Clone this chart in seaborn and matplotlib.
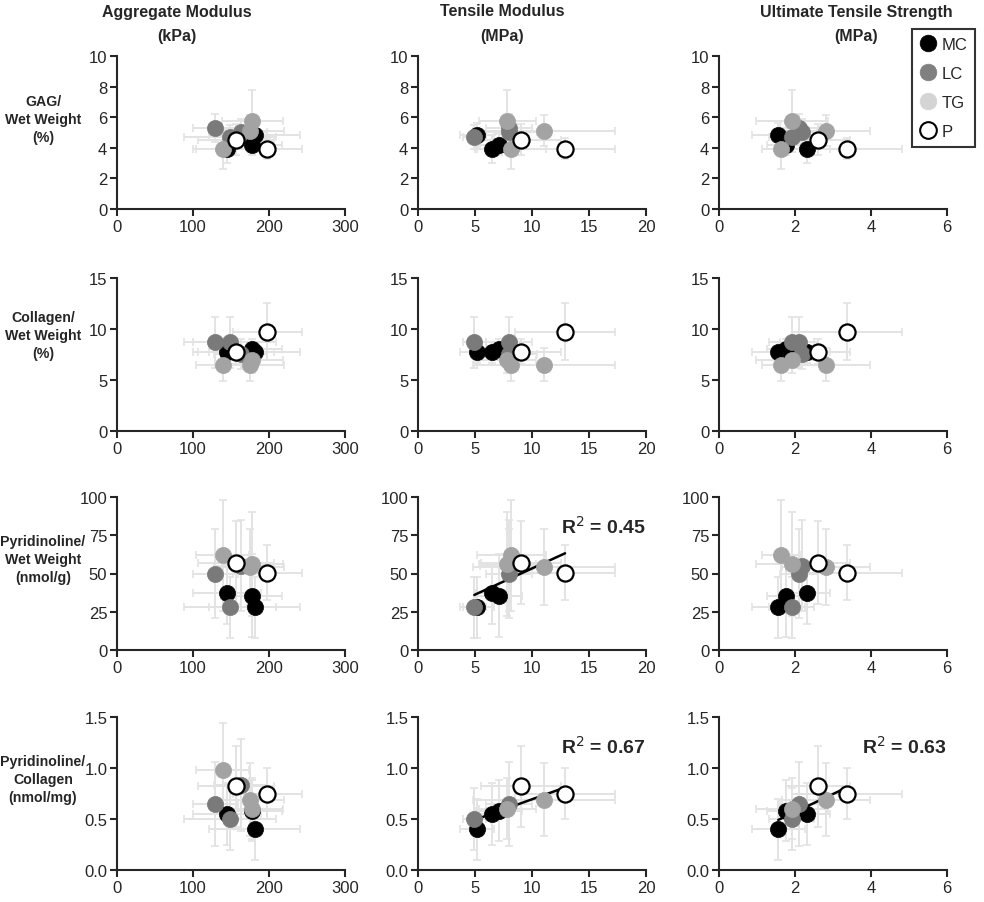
import numpy as np
import pandas as pd
import matplotlib
matplotlib.use("Agg")
import matplotlib.pyplot as plt
from matplotlib.lines import Line2D
from matplotlib.ticker import FormatStrFormatter
import seaborn as sns

# sample order: MC1-3, LC1-3, TG1-3, P1-2
group = ["MC", "MC", "MC", "LC", "LC", "LC", "TG", "TG", "TG", "P", "P"]

agg = [181, 177, 145, 129.5, 148.8, 162.8, 139, 178, 174.6, 157, 197.8]
agg_sd = [60, 40, 45, 30, 60, 35, 35, 40, 45, 50, 45]
tens = [5.2, 7.1, 6.5, 8.0, 4.94, 7.96, 8.19, 7.81, 11.06, 9.06, 12.9]
tens_sd = [1.5, 2.0, 1.5, 2.0, 1.0, 2.5, 3.0, 2.5, 6.2, 3.5, 4.4]
uts = [1.56, 1.77, 2.31, 2.11, 1.91, 2.18, 1.62, 1.93, 2.82, 2.61, 3.37]
uts_sd = [0.7, 0.5, 0.6, 0.5, 0.6, 0.4, 0.5, 0.95, 1.16, 0.85, 1.45]

gag = [4.84, 4.2, 3.91, 5.3, 4.72, 5.05, 3.93, 5.75, 5.13, 4.53, 3.94]
gag_sd = [0.8, 0.7, 0.9, 0.9, 0.8, 0.8, 1.3, 2.0, 1.0, 1.0, 0.7]
col = [7.71, 8.04, 7.71, 8.69, 8.69, 7.55, 6.5, 6.93, 6.5, 7.78, 9.74]
col_sd = [1.0, 1.0, 1.0, 2.5, 2.5, 1.5, 1.6, 1.2, 1.6, 1.2, 2.8]
pyr_ww = [28, 35.6, 37.1, 50, 28, 55.2, 61.8, 55.9, 54.4, 57, 50.4]
pyr_ww_sd = [20, 27, 20, 29, 20, 30, 36, 34, 25, 27, 18]
pyr_col = [0.40, 0.58, 0.55, 0.65, 0.50, 0.83, 0.98, 0.60, 0.69, 0.82, 0.75]
pyr_col_sd = [0.3, 0.3, 0.3, 0.41, 0.3, 0.45, 0.46, 0.3, 0.36, 0.4, 0.25]
# samples without pyridinoline/collagen in the tensile columns
no_tensile_pyr_col = [5, 6]

col_titles = [("Aggregate Modulus", "(kPa)"), ("Tensile Modulus", "(MPa)"),
              ("Ultimate Tensile Strength", "(MPa)")]
row_titles = ["GAG/\nWet Weight\n(%)", "Collagen/\nWet Weight\n(%)",
              "Pyridinoline/\nWet Weight\n(nmol/g)", "Pyridinoline/\nCollagen\n(nmol/mg)"]
r2_labels = {(2, 1): "0.45", (3, 1): "0.67", (3, 2): "0.63"}

df = pd.DataFrame({"group": group, "agg": agg, "agg_sd": agg_sd, "tens": tens, "tens_sd": tens_sd,
                   "uts": uts, "uts_sd": uts_sd, "gag": gag, "gag_sd": gag_sd, "col": col,
                   "col_sd": col_sd, "pyr_ww": pyr_ww, "pyr_ww_sd": pyr_ww_sd,
                   "pyr_col": pyr_col, "pyr_col_sd": pyr_col_sd})

xvars = ["agg", "tens", "uts"]
yvars = ["gag", "col", "pyr_ww", "pyr_col"]
xlims = [(0, 300, 100), (0, 20, 5), (0, 6, 2)]
ylims = [(0, 10, 2), (0, 15, 5), (0, 100, 25), (0, 1.5, 0.5)]

face = {"MC": "black", "LC": "#7a7a7a", "TG": "#a3a3a3", "P": "white"}
order = ["MC", "LC", "TG", "P"]

sns.set_style("ticks")
plt.rcParams["font.family"] = ["Liberation Sans", "DejaVu Sans"]
plt.rcParams["axes.linewidth"] = 1.5

fig = plt.figure(figsize=(9.84, 9.03), dpi=100)
W, H = 984, 903
lefts = [117, 418, 719]
tops = [57, 279, 498, 718]
aw, ah = 228, 153

for r, yv in enumerate(yvars):
    for c, xv in enumerate(xvars):
        ax = fig.add_axes([lefts[c] / W, 1 - (tops[r] + ah) / H, aw / W, ah / H])
        d = df.copy()
        if yv == "pyr_col" and c > 0:
            d = d.drop(index=no_tensile_pyr_col)
        ax.errorbar(d[xv], d[yv], xerr=d[xv + "_sd"], yerr=d[yv + "_sd"], fmt="none",
                    ecolor="#e3e3e3", elinewidth=1.4, capsize=3, capthick=1.2, zorder=1)
        for g in order:
            sub = d[d["group"] == g]
            sns.scatterplot(data=sub, x=xv, y=yv, ax=ax, s=135, color=face[g],
                            edgecolor="black" if g == "P" else face[g],
                            linewidth=1.6 if g == "P" else 0.5, zorder=3, legend=False)
        if (r, c) in r2_labels:
            sns.regplot(data=d, x=xv, y=yv, ax=ax, scatter=False, ci=None,
                        color="black", line_kws={"linewidth": 1.8, "zorder": 2})
            ax.text(1.0, 0.81, "R$^2$ = " + r2_labels[(r, c)], transform=ax.transAxes,
                    ha="right", va="center", fontsize=14, fontweight="bold")
        x0, x1, xs = xlims[c]
        y0, y1, ys = ylims[r]
        ax.set_xlim(x0, x1)
        ax.set_ylim(y0, y1)
        ax.set_xticks(np.arange(x0, x1 + xs / 2, xs))
        ax.set_yticks(np.arange(y0, y1 + ys / 2, ys))
        if r == 3:
            ax.yaxis.set_major_formatter(FormatStrFormatter("%.1f"))
        ax.set_xlabel("")
        ax.set_ylabel("")
        ax.tick_params(labelsize=12, width=1.5, length=5, direction="out", pad=2)
        sns.despine(ax=ax)

# column titles (two lines each) and row titles
col_centers = [177, 502, 856]
for c, (t1, t2) in enumerate(col_titles):
    fig.text(col_centers[c] / W, 1 - 12 / H, t1, ha="center", va="center",
             fontsize=11.5, fontweight="bold")
    fig.text(col_centers[c] / W, 1 - 36 / H, t2, ha="center", va="center",
             fontsize=11.5, fontweight="bold")
row_centers = [120, 336, 560, 780]
for r, t in enumerate(row_titles):
    fig.text(43 / W, 1 - row_centers[r] / H, t, ha="center", va="center",
             fontsize=10.2, fontweight="bold", linespacing=1.4)

legend_colors = {"MC": "black", "LC": "#808080", "TG": "#d4d4d4", "P": "white"}
handles = [Line2D([], [], linestyle="none", marker="o", markersize=12,
                  markerfacecolor=legend_colors[g],
                  markeredgecolor="black" if g == "P" else legend_colors[g],
                  markeredgewidth=1.5 if g == "P" else 0.5, label=g) for g in order]
leg = fig.legend(handles=handles, loc="upper left", bbox_to_anchor=(912 / W, 1 - 30 / H),
                 frameon=True, fancybox=False, fontsize=12, handletextpad=0.3,
                 labelspacing=0.85, borderpad=0.45, handlelength=1.0, borderaxespad=0)
leg.get_frame().set_edgecolor("black")
leg.get_frame().set_linewidth(1.5)

fig.savefig("out.png", dpi=100)
